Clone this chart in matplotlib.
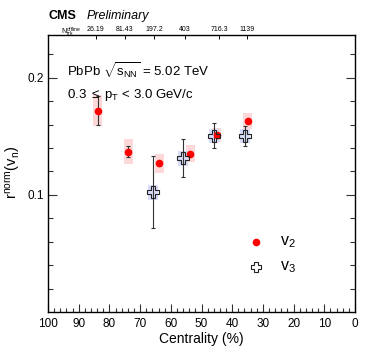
import matplotlib
matplotlib.use('Agg')
import matplotlib.pyplot as plt
import matplotlib.patches as patches
from matplotlib.ticker import MultipleLocator, FixedLocator

plt.rcParams['font.family'] = ['Liberation Sans', 'DejaVu Sans']
plt.rcParams['mathtext.fontset'] = 'custom'
plt.rcParams['mathtext.rm'] = 'Liberation Sans'
plt.rcParams['mathtext.it'] = 'Liberation Sans:italic'
plt.rcParams['mathtext.bf'] = 'Liberation Sans:bold'

# ---- data ----
v2_cent = [83.8, 73.8, 63.8, 53.7, 45.1, 34.9]
v2_val = [0.172, 0.137, 0.127, 0.135, 0.151, 0.163]
v2_stat = [0.012, 0.0045, 0.002, 0.002, 0.002, 0.002]
v2_sys = [0.0135, 0.0103, 0.008, 0.0073, 0.0057, 0.0066]

v3_cent = [65.9, 55.9, 45.9, 35.8]
v3_val = [0.1023, 0.1313, 0.1504, 0.1499]
v3_stat = [0.031, 0.016, 0.0107, 0.0085]
v3_sys = [0.0064, 0.0064, 0.006, 0.006]

nch_cent = [84.5, 74.9, 65.4, 55.3, 44.2, 35.3]
nch_labels = ['26.19', '81.43', '197.2', '403', '716.3', '1139']

W, H = 374, 359
fig = plt.figure(figsize=(W / 100, H / 100), dpi=100)
ax = fig.add_axes([48 / W, 1 - 312 / H, 307 / W, 277 / H])

# systematic boxes
for c, v, s in zip(v2_cent, v2_val, v2_sys):
    ax.add_patch(patches.Rectangle((c - 1.5, v - s), 3.0, 2 * s, facecolor='#fdd8d8',
                                   edgecolor='none', zorder=1))
for c, v, s in zip(v3_cent, v3_val, v3_sys):
    ax.add_patch(patches.Rectangle((c - 1.6, v - s), 3.2, 2 * s, facecolor='#d8dcf8',
                                   edgecolor='none', zorder=1))

# stat errors
ax.errorbar(v2_cent, v2_val, yerr=v2_stat, fmt='none', ecolor='#333333', elinewidth=0.8,
            capsize=1.5, capthick=0.8, zorder=2)
ax.errorbar(v3_cent, v3_val, yerr=v3_stat, fmt='none', ecolor='#333333', elinewidth=0.8,
            capsize=1.5, capthick=0.8, zorder=2)

ax.plot(v2_cent, v2_val, 'o', color='red', markersize=5.5, markeredgewidth=0, zorder=3)
ax.plot(v3_cent, v3_val, 'P', markerfacecolor='none', markeredgecolor='#222222',
        markersize=8, markeredgewidth=0.8, zorder=4)

ax.set_xlim(100, 0)
ax.set_ylim(0, 0.2365)

ax.xaxis.set_major_locator(MultipleLocator(10))
ax.xaxis.set_minor_locator(MultipleLocator(2))
ax.yaxis.set_major_locator(FixedLocator([0.1, 0.2]))
ax.yaxis.set_minor_locator(FixedLocator([0.02, 0.04, 0.06, 0.08, 0.12, 0.14, 0.16, 0.18, 0.22]))
ax.set_yticklabels(['0.1', '0.2'])

ax.tick_params(axis='both', which='both', direction='in', top=False, right=True,
               width=0.8, colors='#333333', labelcolor='black', labelsize=8.5)
ax.tick_params(axis='x', which='major', length=6, pad=4)
ax.tick_params(axis='x', which='minor', length=3)
ax.tick_params(axis='y', which='major', length=6.5, pad=3)
ax.tick_params(axis='y', which='minor', length=3.5)
for sp in ax.spines.values():
    sp.set_linewidth(1.0)

ax.set_xlabel('Centrality (%)', fontsize=10, labelpad=2)
fig.text(13 / W, 1 - 172 / H, r'r$^{\mathrm{norm}}$(v$_{\mathrm{n}}$)', rotation=90,
         ha='center', va='center', fontsize=10.5)

# top axis: Ntrk offline
sec = ax.secondary_xaxis('top')
sec.set_xticks(nch_cent)
sec.set_xticklabels(nch_labels)
sec.tick_params(direction='in', length=3, width=0.7, labelsize=5, pad=1.5)
sec.spines['top'].set_visible(False)
fig.text(61 / W, 1 - 32 / H, r'N$_{\mathrm{trk}}^{\mathrm{offline}}$', fontsize=5,
         ha='left', va='center')

# headers
fig.text(48 / W, 1 - 16 / H, 'CMS', fontsize=9, fontweight='bold', ha='left', va='center')
fig.text(87 / W, 1 - 16 / H, 'Preliminary', fontsize=9, style='italic', ha='left', va='center')

ax.text(0.063, 0.87, r'PbPb $\sqrt{\mathrm{s}_{\mathrm{NN}}}$ = 5.02 TeV', transform=ax.transAxes,
        fontsize=9.5, ha='left', va='center')
ax.text(0.063, 0.785, r'0.3 $\leq$ p$_{\mathrm{T}}$ < 3.0 GeV/c', transform=ax.transAxes,
        fontsize=9.5, ha='left', va='center')

# legend
ax.plot([0.6775], [0.2527], 'o', color='red', markersize=5.5, markeredgewidth=0,
        transform=ax.transAxes, clip_on=False)
ax.plot([0.6775], [0.1625], 'P', markerfacecolor='none', markeredgecolor='#222222',
        markersize=7, markeredgewidth=0.8, transform=ax.transAxes, clip_on=False)
ax.text(0.755, 0.252, r'v$_{\mathrm{2}}$', transform=ax.transAxes, fontsize=11.5,
        ha='left', va='center')
ax.text(0.755, 0.162, r'v$_{\mathrm{3}}$', transform=ax.transAxes, fontsize=11.5,
        ha='left', va='center')

fig.savefig('out.png', dpi=100)
